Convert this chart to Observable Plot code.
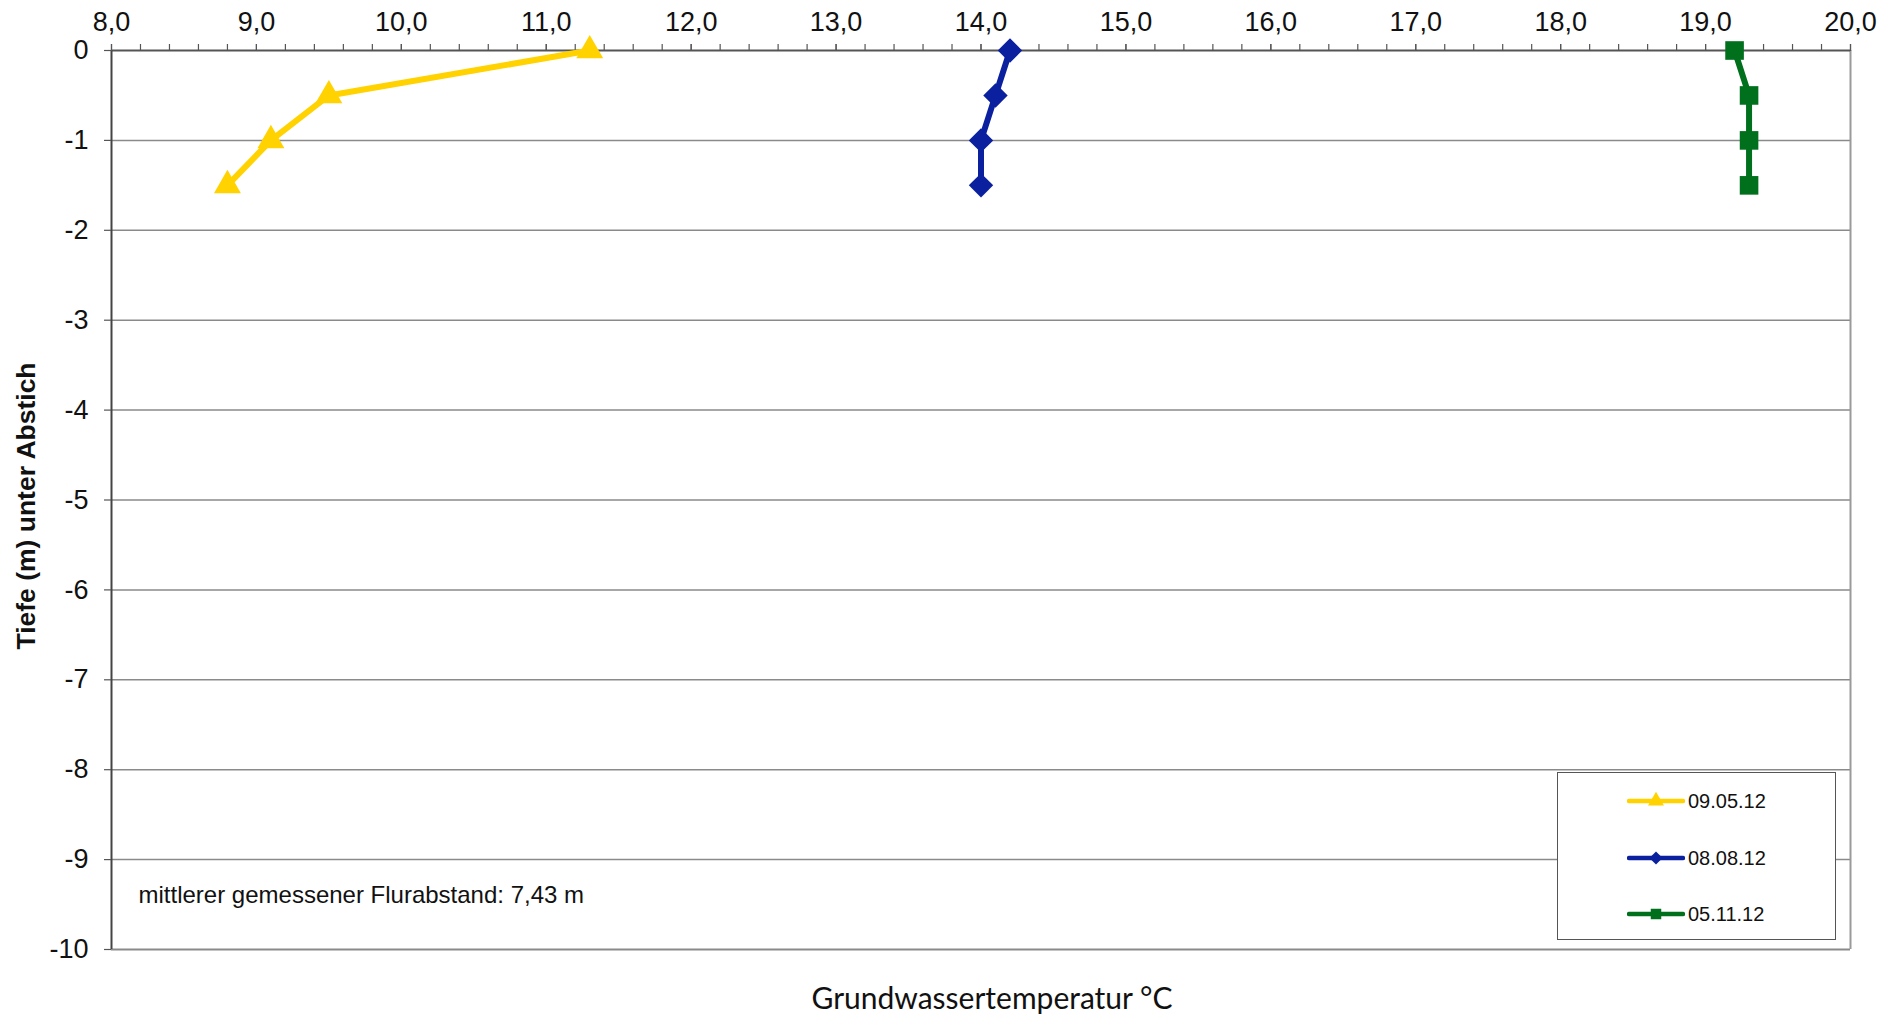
<!DOCTYPE html>
<html>
<head>
<meta charset="utf-8">
<script src="https://cdn.jsdelivr.net/npm/d3@7"></script>
<script src="https://cdn.jsdelivr.net/npm/@observablehq/plot@0.6"></script>
<style>
  html, body { margin: 0; padding: 0; background: #fff; }
  #wrap { position: relative; width: 1894px; height: 1017px; overflow: hidden; }
  #legend { position: absolute; left: 1557px; top: 772px; width: 277px; height: 166px;
            background: #fff; border: 1.5px solid #555; font-family: "Liberation Sans", Arial, sans-serif;
            font-size: 20px; color: #111; }
  .entry { position: absolute; left: 69px; height: 24px; display: flex; align-items: center; }
  .entry svg { display: block; }
  .entry span { margin-left: 3px; }
</style>
</head>
<body>
<div id="wrap"></div>
<script>
// ---- data ----
const depths = [0, -0.5, -1, -1.5];
const temp0905 = [11.3, 9.5, 9.1, 8.8];
const temp0808 = [14.2, 14.1, 14.0, 14.0];
const temp0511 = [19.2, 19.3, 19.3, 19.3];
const seriesNames = ["09.05.12", "08.08.12", "05.11.12"];
const seriesColors = ["#ffd200", "#0a209e", "#00701d"];
const seriesSymbols = ["triangle", "diamond2", "square"];
const xTicks = [8, 9, 10, 11, 12, 13, 14, 15, 16, 17, 18, 19, 20];
const xMinorTicks = d3.range(0, 61).map(i => 8 + i * 0.2);
const yTicks = [0, -1, -2, -3, -4, -5, -6, -7, -8, -9, -10];
const xTitle = "Grundwassertemperatur °C";
const yTitle = "Tiefe (m) unter Abstich";
const note = "mittlerer gemessener Flurabstand: 7,43 m";

const seriesTemps = [temp0905, temp0808, temp0511];
const rows = [];
seriesNames.forEach((name, s) => {
  depths.forEach((d, i) => rows.push({series: name, depth: d, temp: seriesTemps[s][i]}));
});
const symbolSizes = {"triangle": 10, "diamond2": 11, "square": 10.5};

const fmtX = d => d.toFixed(1).replace(".", ",");

const marks = [
  Plot.ruleY(yTicks.filter(d => d !== 0 && d !== -10), {stroke: "#8a8a8a", strokeWidth: 1.5}),
  Plot.ruleY([-10], {stroke: "#8a8a8a", strokeWidth: 2}),
  Plot.ruleX([20], {stroke: "#9a9a9a", strokeWidth: 2}),
  Plot.ruleY([0], {stroke: "#555", strokeWidth: 2}),
  Plot.ruleX([8], {stroke: "#444", strokeWidth: 2}),
  Plot.axisX({anchor: "top", ticks: xMinorTicks, tickSize: 7, tickFormat: () => "", label: null,
              stroke: "#555", strokeWidth: 1.2}),
  Plot.axisX({anchor: "top", ticks: xTicks, tickSize: 7, tickPadding: 13, tickFormat: fmtX,
              fontSize: 27, label: null, stroke: "#555", strokeWidth: 1.2, fill: "#111"}),
  Plot.axisY({ticks: yTicks, tickSize: 7, tickPadding: 16, tickFormat: d => String(d),
              fontSize: 27, label: null, stroke: "#555", strokeWidth: 1.2, fill: "#111"}),
  Plot.text([yTitle], {frameAnchor: "left", textAnchor: "middle", lineAnchor: "middle", rotate: -90,
              dx: -85, dy: 6, fontSize: 26.5, fontWeight: "bold", fill: "#111"}),
  Plot.text([xTitle], {frameAnchor: "bottom", textAnchor: "middle", lineAnchor: "middle", dx: 11, dy: 50,
              fontSize: 30, fontFamily: "Lato, 'Open Sans', sans-serif", fill: "#111"}),
  Plot.text([note], {frameAnchor: "bottom-left", textAnchor: "start", lineAnchor: "middle", dx: 27, dy: -54,
              fontSize: 24, fill: "#111"})
];
seriesNames.forEach((name, s) => {
  const data = rows.filter(r => r.series === name);
  marks.push(Plot.line(data, {x: "temp", y: "depth", stroke: seriesColors[s], strokeWidth: 6,
                              strokeLinejoin: "round"}));
  marks.push(Plot.dot(data, {x: "temp", y: "depth", symbol: seriesSymbols[s], fill: seriesColors[s],
                             stroke: "none", r: symbolSizes[seriesSymbols[s]]}));
});

const chart = Plot.plot({
  width: 1894,
  height: 1017,
  marginLeft: 111,
  marginRight: 44,
  marginTop: 50,
  marginBottom: 68,
  style: {fontFamily: "'Liberation Sans', Arial, sans-serif", fontSize: "25px", background: "#fff", color: "#111"},
  x: {domain: [8, 20]},
  y: {domain: [-10, 0]},
  marks
});
const wrap = document.getElementById("wrap");
wrap.appendChild(chart);

// ---- legend ----
const legend = document.createElement("div");
legend.id = "legend";
const entryY = [28, 85, 141];
seriesNames.forEach((name, s) => {
  const e = document.createElement("div");
  e.className = "entry";
  e.style.top = (entryY[s] - 12) + "px";
  const svg = d3.create("svg").attr("width", 58).attr("height", 24);
  svg.append("line").attr("x1", 2).attr("x2", 56).attr("y1", 12).attr("y2", 12)
    .attr("stroke", seriesColors[s]).attr("stroke-width", 4.5).attr("stroke-linecap", "round");
  const symMap = {triangle: d3.symbolTriangle, diamond2: d3.symbolDiamond2, square: d3.symbolSquare};
  svg.append("path").attr("transform", "translate(29,12)")
    .attr("d", d3.symbol(symMap[seriesSymbols[s]], 110)())
    .attr("fill", seriesColors[s]);
  e.appendChild(svg.node());
  const t = document.createElement("span");
  t.textContent = name;
  e.appendChild(t);
  legend.appendChild(e);
});
wrap.appendChild(legend);
</script>
</body>
</html>
